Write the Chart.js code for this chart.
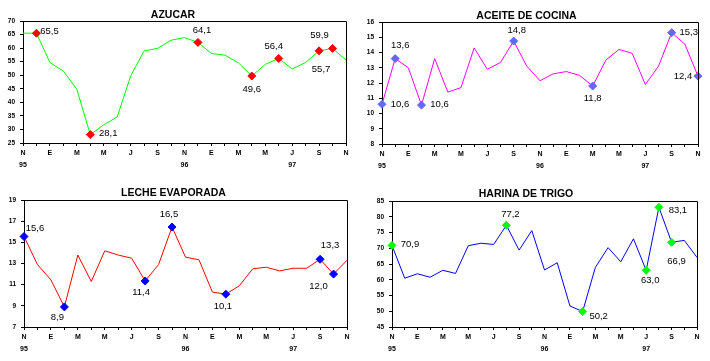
<!DOCTYPE html>
<html>
<head>
<meta charset="utf-8">
<script src="https://cdn.jsdelivr.net/npm/chart.js@4/dist/chart.umd.min.js"></script>
<style>
  html, body { margin: 0; padding: 0; background: #fff; }
  #wrap { position: relative; width: 710px; height: 361px; }
  .panel { position: absolute; }
</style>
</head>
<body>
<div id="wrap">
  <div class="panel" style="left:0;top:0"><canvas id="c1" width="355" height="180"></canvas></div>
  <div class="panel" style="left:355px;top:0"><canvas id="c2" width="355" height="180"></canvas></div>
  <div class="panel" style="left:0;top:180px"><canvas id="c3" width="355" height="181"></canvas></div>
  <div class="panel" style="left:355px;top:180px"><canvas id="c4" width="355" height="181"></canvas></div>
</div>
<script>
// ---- eje x: nov 95 .. nov 97 ----
const mesLabels = ['N','','E','','M','','M','','J','','S','','N','','E','','M','','M','','J','','S','','N'];
const anioLabels = ['95','','','','','','','','','','','','96','','','','','','','','97','','','',''];

// ---- AZUCAR ----
const azucarValores = [65.5,65.5,54.7,51.5,44.8,28.1,31.7,34.6,49.7,59.0,59.9,62.9,63.9,62.1,58.0,57.4,54.6,49.7,54.0,56.2,52.3,54.7,59.0,59.9,55.6];
const azucarEtiquetas = [null,'65,5',null,null,null,'28,1',null,null,null,null,null,null,null,'64,1',null,null,null,'49,6',null,'56,4',null,null,'55,7','59,9',null];

// ---- ACEITE DE COCINA ----
const aceiteValores = [10.6,13.6,13.0,10.55,13.6,11.4,11.7,14.3,12.9,13.35,14.75,13.1,12.15,12.6,12.75,12.5,11.8,13.5,14.2,13.95,11.9,13.1,15.3,14.55,12.45];
const aceiteEtiquetas = ['10,6','13,6',null,'10,6',null,null,null,null,null,null,'14,8',null,null,null,null,null,'11,8',null,null,null,null,null,'15,3',null,'12,4'];

// ---- LECHE EVAPORADA ----
const lecheValores = [15.55,12.9,11.45,8.9,13.8,11.3,14.2,13.8,13.5,11.35,12.9,16.45,13.6,13.35,10.3,10.1,10.9,12.5,12.65,12.3,12.55,12.55,13.4,12.0,13.3];
const lecheEtiquetas = ['15,6',null,null,'8,9',null,null,null,null,null,'11,4',null,'16,5',null,null,null,'10,1',null,null,null,null,null,null,'13,3','12,0',null];

// ---- HARINA DE TRIGO ----
const harinaValores = [70.9,60.5,61.9,60.8,63.0,62.0,70.8,71.6,71.2,77.3,69.4,75.6,63.1,65.4,51.7,49.9,63.9,70.2,65.7,73.0,63.0,83.0,71.9,72.5,67.1];
const harinaEtiquetas = ['70,9',null,null,null,null,null,null,null,null,'77,2',null,null,null,null,null,'50,2',null,null,null,null,'63,0','83,1','66,9',null,null];

const FONT = '"Liberation Sans", Arial, sans-serif';

// marco superior/derecho del area de trazado
const marcoPlugin = {
  id: 'marco',
  afterDraw(chart) {
    const a = chart.chartArea;
    const ctx = chart.ctx;
    ctx.save();
    ctx.strokeStyle = '#000';
    ctx.lineWidth = 1;
    ctx.beginPath();
    ctx.moveTo(Math.round(a.left) + 0.5, Math.round(a.top) + 0.5);
    ctx.lineTo(Math.round(a.right) + 0.5, Math.round(a.top) + 0.5);
    ctx.lineTo(Math.round(a.right) + 0.5, Math.round(a.bottom) + 0.5);
    ctx.stroke();
    ctx.restore();
  }
};

// etiquetas de datos junto a los puntos marcados
const etiquetasPlugin = {
  id: 'etiquetas',
  afterDatasetsDraw(chart) {
    const cfg = chart.config.options.plugins.etiquetas;
    const meta = chart.getDatasetMeta(0);
    const ctx = chart.ctx;
    ctx.save();
    ctx.font = '9.5px ' + FONT;
    ctx.fillStyle = '#000';
    ctx.textAlign = 'center';
    ctx.textBaseline = 'middle';
    cfg.textos.forEach((t, i) => {
      if (!t) return;
      const el = meta.data[i];
      const off = cfg.offsets[i] || [0, 0];
      ctx.fillText(t, el.x + off[0], el.y + off[1]);
    });
    ctx.restore();
  }
};

function grafico(id, o) {
  const canvas = document.getElementById(id);
  const w = canvas.width, h = canvas.height;
  const [l, t, r, b] = o.area;
  const fs = 10.5;
  new Chart(canvas, {
    type: 'line',
    data: {
      labels: mesLabels.map((m, i) => [m, anioLabels[i]]),
      datasets: [{
        data: o.valores,
        borderColor: o.colorLinea,
        borderWidth: 1,
        tension: 0,
        pointStyle: 'rectRot',
        pointRadius: o.etiquetas.map(e => e ? 4 : 0),
        pointBackgroundColor: o.colorPunto,
        pointBorderColor: o.colorPunto,
        pointBorderWidth: 1
      }]
    },
    options: {
      responsive: false,
      animation: false,
      events: [],
      layout: { padding: { left: 0, top: 0, right: w - r, bottom: 0 } },
      plugins: {
        legend: { display: false },
        tooltip: { enabled: false },
        title: {
          display: true,
          text: o.titulo,
          color: '#000',
          font: { family: FONT, size: fs, weight: 'bold', lineHeight: 1 },
          padding: { top: o.tituloY - fs / 2, bottom: t - o.tituloY - fs / 2 }
        },
        etiquetas: { textos: o.etiquetas, offsets: o.offsets }
      },
      scales: {
        x: {
          offset: false,
          border: { display: true, color: '#000', width: 1 },
          grid: { display: true, drawOnChartArea: false, drawTicks: true, tickLength: 3, color: '#000' },
          ticks: {
            autoSkip: false, maxRotation: 0, padding: 1.5, color: '#000',
            font: { family: FONT, size: 7, weight: 'bold', lineHeight: 1.7 }
          },
          afterFit(s) { s.height = h - b; }
        },
        y: {
          min: o.yMin, max: o.yMax,
          border: { display: true, color: '#000', width: 1 },
          grid: { display: true, drawOnChartArea: false, drawTicks: true, tickLength: 3, color: '#000' },
          ticks: {
            stepSize: o.yPaso, padding: 5, color: '#000',
            font: { family: FONT, size: 6.5, weight: 'bold' }
          },
          afterFit(s) { s.width = l; }
        }
      }
    },
    plugins: [marcoPlugin, etiquetasPlugin]
  });
}

grafico('c1', {
  titulo: 'AZUCAR', valores: azucarValores, etiquetas: azucarEtiquetas,
  offsets: { 1: [13, -2], 5: [18, -1], 13: [4, -12], 17: [0, 13], 19: [-5, -12], 22: [2, 19], 23: [-13, -13] },
  colorLinea: '#00ff00', colorPunto: '#ff0000',
  yMin: 25, yMax: 70, yPaso: 5, area: [23, 21, 346, 143], tituloY: 15.5
});

grafico('c2', {
  titulo: 'ACEITE DE COCINA', valores: aceiteValores, etiquetas: aceiteEtiquetas,
  offsets: { 0: [18, 0], 1: [5, -13], 3: [18, -1], 10: [3, -11], 16: [0, 12], 22: [17, 0], 24: [-15, 0] },
  colorLinea: '#ff00ff', colorPunto: '#6666ff',
  yMin: 8, yMax: 16, yPaso: 1, area: [27, 22, 343, 144], tituloY: 16
});

grafico('c3', {
  titulo: 'LECHE EVAPORADA', valores: lecheValores, etiquetas: lecheEtiquetas,
  offsets: { 0: [11, -8], 3: [-7, 10], 9: [-4, 11], 11: [-3, -13], 15: [-3, 12], 22: [10, -14], 23: [-15, 12] },
  colorLinea: '#ff0000', colorPunto: '#0000ff',
  yMin: 7, yMax: 19, yPaso: 2, area: [24, 20, 347, 147], tituloY: 13
});

grafico('c4', {
  titulo: 'HARINA DE TRIGO', valores: harinaValores, etiquetas: harinaEtiquetas,
  offsets: { 0: [18, -1], 9: [4, -11], 15: [16, 5], 20: [4, 10], 21: [19, 3], 22: [5, 19] },
  colorLinea: '#0000ff', colorPunto: '#00ff00',
  yMin: 45, yMax: 85, yPaso: 5, area: [37, 21, 342, 147], tituloY: 14
});
</script>
</body>
</html>
